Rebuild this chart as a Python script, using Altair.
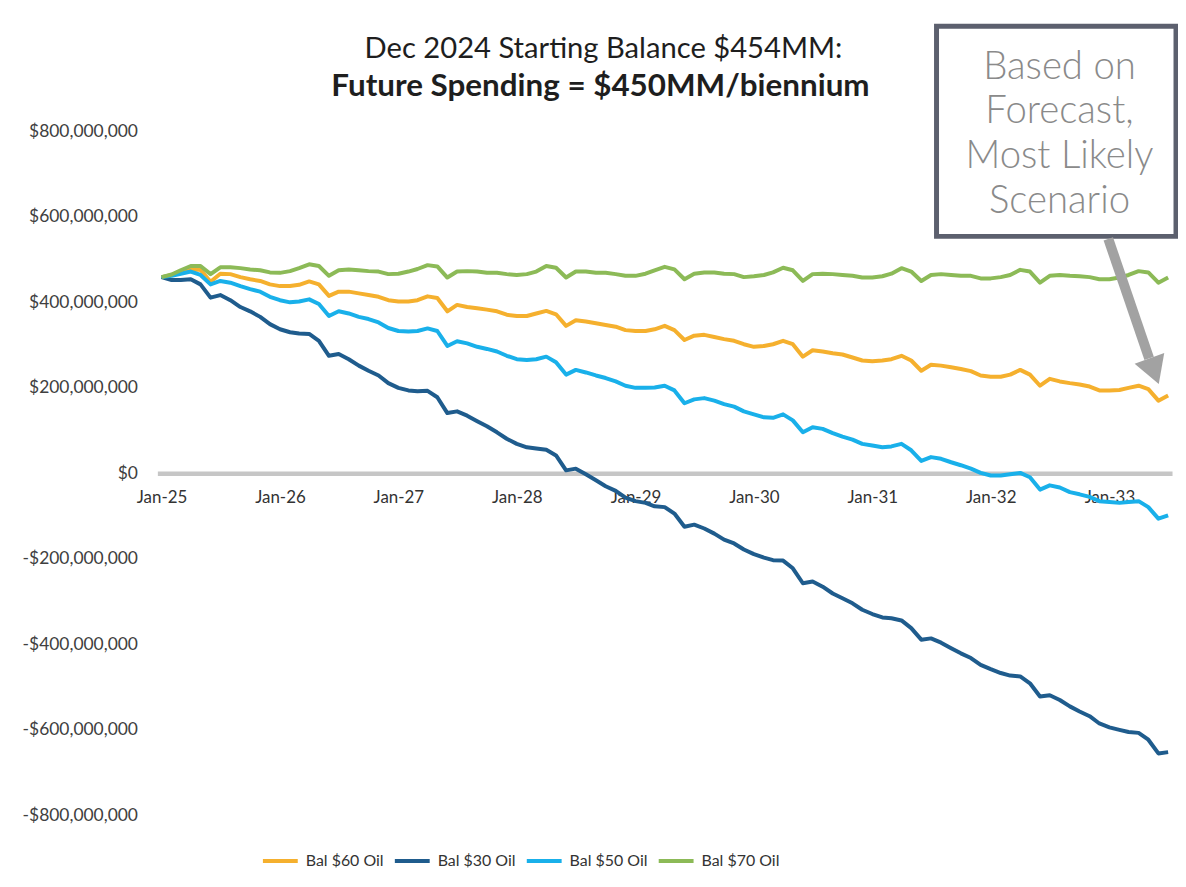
import altair as alt
import pandas as pd

# ---- data (values in $ millions, monthly Jan-2025 .. Jul-2033) ----
months = pd.date_range("2025-01-01", periods=103, freq="MS").strftime("%Y/%m/%d").tolist()

bal60 = [459, 464, 473, 477, 476, 448, 467, 466, 459, 454,
         450, 442, 438, 438, 441, 449, 442, 415, 425, 425,
         421, 417, 413, 405, 402, 402, 405, 414, 410, 379,
         394, 389, 386, 383, 379, 371, 368, 368, 374, 380,
         372, 345, 358, 355, 351, 347, 343, 335, 333, 333,
         337, 345, 335, 312, 322, 324, 319, 314, 310, 302,
         296, 298, 302, 310, 302, 273, 288, 285, 281, 278,
         271, 264, 262, 264, 267, 275, 264, 240, 254, 252,
         248, 244, 239, 229, 226, 226, 231, 242, 231, 205,
         221, 215, 211, 208, 203, 194, 194, 195, 200, 205,
         197, 170, 182]

bal30 = [459, 452, 452, 454, 442, 411, 417, 405, 389, 379,
         366, 349, 337, 330, 327, 326, 310, 275, 279, 267,
         252, 240, 229, 211, 200, 194, 192, 193, 178, 141,
         145, 135, 122, 110, 96, 81, 69, 61, 58, 55,
         42, 7, 11, -2, -16, -30, -41, -57, -65, -69,
         -77, -79, -94, -125, -120, -129, -141, -155, -164, -178,
         -189, -197, -203, -204, -222, -257, -253, -265, -281, -292,
         -304, -319, -329, -337, -339, -344, -362, -389, -386, -396,
         -409, -421, -432, -448, -458, -467, -473, -475, -491, -522,
         -519, -530, -545, -557, -568, -585, -594, -600, -605, -607,
         -623, -655, -652]

bal50 = [459, 462, 467, 472, 464, 442, 450, 446, 438, 431,
         425, 413, 405, 400, 402, 407, 396, 368, 379, 374,
         366, 361, 353, 340, 333, 332, 333, 339, 333, 298,
         309, 304, 296, 291, 285, 275, 267, 265, 267, 273,
         260, 231, 242, 236, 229, 223, 215, 205, 200, 200,
         201, 205, 194, 164, 173, 176, 170, 162, 156, 145,
         138, 131, 130, 138, 124, 96, 108, 104, 94, 86,
         79, 69, 65, 61, 63, 69, 54, 29, 38, 34,
         26, 19, 11, 1, -5, -5, -2, 1, -9, -38,
         -28, -33, -44, -49, -55, -65, -67, -69, -67, -65,
         -79, -106, -98]

bal70 = [459, 465, 475, 485, 485, 466, 482, 482, 480, 477,
         475, 470, 469, 473, 480, 489, 485, 462, 475, 477,
         475, 473, 472, 466, 467, 472, 478, 487, 484, 458,
         472, 473, 472, 469, 469, 466, 464, 466, 472, 485,
         481, 458, 472, 472, 469, 469, 466, 462, 462, 467,
         475, 483, 477, 454, 467, 470, 470, 467, 466, 459,
         461, 464, 470, 481, 475, 450, 466, 467, 466, 464,
         462, 458, 458, 461, 467, 480, 472, 450, 464, 466,
         464, 462, 462, 456, 456, 459, 464, 476, 472, 446,
         462, 464, 462, 461, 459, 454, 454, 458, 464, 473,
         470, 446, 458]

series_names = ["Bal $60 Oil", "Bal $30 Oil", "Bal $50 Oil", "Bal $70 Oil"]
series_colors = ["#F5B02E", "#1F5C8D", "#19B0EA", "#8CBA57"]
series_values = [bal60, bal30, bal50, bal70]

y_ticks = [-800e6, -600e6, -400e6, -200e6, 0, 200e6, 400e6, 600e6, 800e6]
tick_years = list(range(2025, 2034))

title_line1 = "Dec 2024 Starting Balance $454MM:"
title_line2 = "Future Spending = $450MM/biennium"
note_text = "Based on\nForecast,\nMost Likely\nScenario"

rows = []
for name, vals in zip(series_names, series_values):
    for d, v in zip(months, vals):
        rows.append({"date": d, "balance": v * 1e6, "series": name})
df = pd.DataFrame(rows)

FONT = "Lato"

lines = alt.Chart(df).mark_line(strokeWidth=4, strokeJoin="round").encode(
    x=alt.X(
        "date:T",
        scale=alt.Scale(domain=[alt.DateTime(year=2024, month=12, date=19),
                                alt.DateTime(year=2033, month=7, date=13)]),
        axis=alt.Axis(
            values=[alt.DateTime(year=y, month=1, date=1) for y in tick_years],
            format="%b-%y", orient="bottom", offset=-343.5,
            domainColor="#C6C6C6", domainWidth=4.5,
            ticks=False, tickSize=0, grid=False, title=None,
            labelPadding=16, labelFontSize=17, labelColor="#333333",
            labelFont=FONT, labelFlush=False, labelOverlap=False,
        ),
    ),
    y=alt.Y(
        "balance:Q",
        scale=alt.Scale(domain=[-800e6, 800e6], nice=False),
        axis=alt.Axis(
            values=y_ticks,
            labelExpr="(datum.value < 0 ? '-' : '') + '$' + format(abs(datum.value), ',')",
            grid=False, ticks=False, tickSize=0, domain=False, title=None,
            labelPadding=20, labelFontSize=17.5, labelColor="#404040", labelFont=FONT,
        ),
    ),
    color=alt.Color(
        "series:N",
        scale=alt.Scale(domain=series_names, range=series_colors),
        legend=alt.Legend(
            orient="none", legendX=104, legendY=713, direction="horizontal",
            title=None, symbolType="stroke", symbolStrokeWidth=4, symbolSize=1225,
            labelFontSize=16, labelFont=FONT, labelColor="#333333",
            columnPadding=2.5, labelOffset=6,
        ),
    ),
)

one = pd.DataFrame({"k": [0]})

title1 = alt.Chart(one).mark_text(
    text=title_line1, font=FONT, fontSize=29.3, fontWeight="normal", color="#1E1E1E",
    align="center", baseline="middle",
).encode(x=alt.value(448), y=alt.value(-83))

title2 = alt.Chart(one).mark_text(
    text=title_line2, font=FONT, fontSize=31.5, fontWeight="bold", color="#1E1E1E",
    align="center", baseline="middle",
).encode(x=alt.value(445), y=alt.value(-44))

box = alt.Chart(one).mark_rect(fill="white", stroke="#5C606E", strokeWidth=5).encode(
    x=alt.value(782.5), x2=alt.value(1023), y=alt.value(-105.5), y2=alt.value(105.5)
)

box_text = alt.Chart(one).mark_text(
    text=note_text, lineBreak="\n", lineHeight=45, font=FONT, fontSize=38.5,
    fontWeight=300, color="#8A8A8A", align="center", baseline="middle",
).encode(x=alt.value(906), y=alt.value(-65))

shaft = alt.Chart(one).mark_rule(stroke="#A2A2A2", strokeWidth=10).encode(
    x=alt.value(955), y=alt.value(108), x2=alt.value(996), y2=alt.value(228)
)

head = alt.Chart(one).mark_point(
    shape="triangle-down", filled=True, fill="#A2A2A2", opacity=1, size=1000, angle=340, strokeWidth=0
).encode(x=alt.value(1001), y=alt.value(241))

chart = alt.layer(lines, box, shaft, head, box_text, title1, title2).properties(
    width=1019,
    height=687,
    padding={"left": 150, "top": 122, "right": 6, "bottom": 56},
    autosize=alt.AutoSizeParams(type="none"),
    background="white",
).configure_view(stroke="transparent", strokeWidth=0)

chart.save("out.html", embed_options={"renderer": "svg", "actions": False})
